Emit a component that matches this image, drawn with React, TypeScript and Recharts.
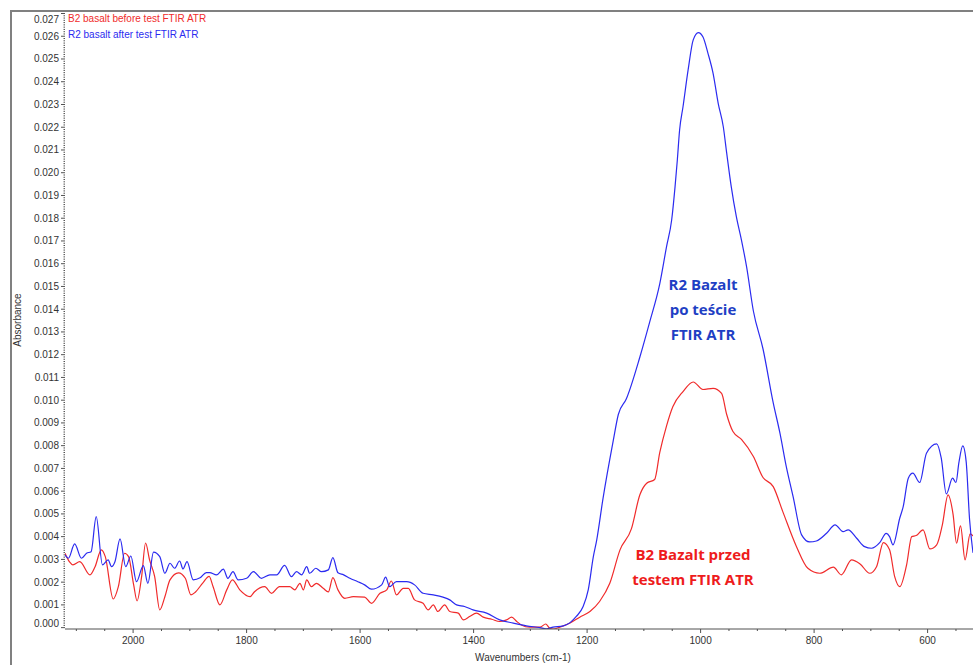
import React from 'react';
import { LineChart, Line, XAxis, YAxis } from 'recharts';

// R2 basalt after test (blue)
const afterWavenumbers = [
  2120, 2114, 2103, 2091, 2082, 2074, 2065, 2054, 2044, 2038, 2032, 2023, 2013, 2004, 1994, 1982,
  1974, 1964, 1953, 1944, 1935, 1927, 1918, 1912, 1905, 1894, 1882, 1871, 1865, 1853, 1841, 1833,
  1824, 1815, 1800, 1788, 1774, 1759, 1747, 1733, 1721, 1712, 1703, 1694, 1689, 1678, 1668, 1656,
  1648, 1639, 1629, 1618, 1604, 1592, 1580, 1562, 1555, 1548, 1536, 1518, 1504, 1489, 1471, 1454,
  1442, 1430, 1416, 1401, 1377, 1354, 1330, 1307, 1283, 1272, 1260, 1242, 1230, 1219, 1207, 1198,
  1189, 1183, 1172, 1154, 1145, 1131, 1107, 1090, 1072, 1060, 1051, 1045, 1041, 1037, 1031, 1022,
  1013, 1004, 996, 987, 978, 969, 960, 954, 946, 937, 928, 919, 907, 890, 872, 860,
  849, 837, 822, 808, 796, 778, 763, 749, 740, 725, 711, 699, 684, 673, 667, 661,
  649, 643, 634, 626, 614, 602, 584, 576, 567, 556, 550, 545, 538, 532, 526, 520,
];
const afterAbsorbance = [
  0.00320, 0.00305, 0.00368, 0.00305, 0.00327, 0.00334, 0.00488, 0.00276, 0.00298, 0.00268, 0.00290, 0.00390, 0.00268, 0.00315, 0.00202, 0.00273,
  0.00195, 0.00332, 0.00312, 0.00239, 0.00283, 0.00261, 0.00293, 0.00258, 0.00290, 0.00210, 0.00219, 0.00242, 0.00242, 0.00232, 0.00257, 0.00217,
  0.00246, 0.00210, 0.00217, 0.00246, 0.00217, 0.00232, 0.00232, 0.00274, 0.00224, 0.00246, 0.00232, 0.00268, 0.00239, 0.00261, 0.00246, 0.00254,
  0.00308, 0.00241, 0.00232, 0.00217, 0.00202, 0.00188, 0.00169, 0.00188, 0.00222, 0.00180, 0.00202, 0.00202, 0.00188, 0.00151, 0.00144, 0.00134,
  0.00122, 0.00100, 0.00093, 0.00078, 0.00064, 0.00034, 0.00020, 0.00008, 0.00000, -0.00005, 0.00002, 0.00008, 0.00022, 0.00049, 0.00093, 0.00166,
  0.00312, 0.00386, 0.00567, 0.00821, 0.00937, 0.01005, 0.01190, 0.01341, 0.01511, 0.01675, 0.01792, 0.01939, 0.02056, 0.02188, 0.02290, 0.02452,
  0.02584, 0.02616, 0.02598, 0.02525, 0.02437, 0.02305, 0.02202, 0.02086, 0.01939, 0.01807, 0.01704, 0.01587, 0.01392, 0.01225, 0.00988, 0.00853,
  0.00708, 0.00576, 0.00408, 0.00377, 0.00381, 0.00415, 0.00452, 0.00422, 0.00430, 0.00393, 0.00356, 0.00349, 0.00375, 0.00414, 0.00400, 0.00364,
  0.00482, 0.00532, 0.00657, 0.00679, 0.00638, 0.00767, 0.00808, 0.00746, 0.00588, 0.00657, 0.00638, 0.00723, 0.00799, 0.00729, 0.00474, 0.00329,
];

// B2 basalt before test (red)
const beforeWavenumbers = [
  2120, 2112, 2106, 2094, 2076, 2067, 2056, 2049, 2035, 2026, 2015, 2008, 1999, 1993, 1985, 1978,
  1971, 1962, 1953, 1944, 1935, 1920, 1908, 1898, 1890, 1877, 1866, 1859, 1847, 1835, 1825, 1812,
  1794, 1786, 1768, 1756, 1742, 1724, 1715, 1706, 1700, 1694, 1686, 1677, 1665, 1656, 1648, 1639,
  1627, 1612, 1592, 1580, 1565, 1553, 1545, 1536, 1524, 1515, 1504, 1489, 1480, 1471, 1463, 1451,
  1442, 1427, 1418, 1407, 1395, 1383, 1368, 1354, 1342, 1333, 1324, 1316, 1301, 1283, 1273, 1266,
  1260, 1248, 1230, 1213, 1195, 1178, 1160, 1142, 1122, 1107, 1095, 1081, 1072, 1060, 1049, 1031,
  1013, 996, 978, 963, 954, 943, 928, 907, 890, 872, 855, 831, 811, 790, 766, 752,
  734, 719, 702, 690, 678, 667, 658, 649, 637, 628, 620, 608, 596, 584, 574, 564,
  555, 549, 542, 534, 525, 520,
];
const beforeAbsorbance = [
  0.00327, 0.00289, 0.00276, 0.00290, 0.00232, 0.00268, 0.00342, 0.00312, 0.00126, 0.00180, 0.00327, 0.00312, 0.00188, 0.00118, 0.00224, 0.00372,
  0.00298, 0.00224, 0.00078, 0.00136, 0.00210, 0.00241, 0.00217, 0.00144, 0.00157, 0.00197, 0.00225, 0.00180, 0.00100, 0.00166, 0.00210, 0.00166,
  0.00136, 0.00158, 0.00180, 0.00151, 0.00180, 0.00180, 0.00166, 0.00195, 0.00166, 0.00210, 0.00180, 0.00195, 0.00173, 0.00157, 0.00220, 0.00166,
  0.00129, 0.00136, 0.00134, 0.00107, 0.00151, 0.00166, 0.00205, 0.00144, 0.00173, 0.00173, 0.00122, 0.00107, 0.00078, 0.00100, 0.00071, 0.00100,
  0.00071, 0.00064, 0.00034, 0.00049, 0.00064, 0.00046, 0.00037, 0.00027, 0.00034, 0.00046, 0.00027, 0.00012, 0.00002, 0.00002, 0.00016, -0.00002,
  -0.00006, 0.00002, 0.00020, 0.00046, 0.00071, 0.00115, 0.00195, 0.00342, 0.00434, 0.00584, 0.00635, 0.00651, 0.00769, 0.00887, 0.00971, 0.01038,
  0.01080, 0.01047, 0.01052, 0.01030, 0.00937, 0.00862, 0.00828, 0.00752, 0.00660, 0.00620, 0.00509, 0.00356, 0.00261, 0.00239, 0.00266, 0.00232,
  0.00298, 0.00280, 0.00239, 0.00268, 0.00374, 0.00342, 0.00224, 0.00180, 0.00276, 0.00400, 0.00405, 0.00430, 0.00346, 0.00364, 0.00452, 0.00584,
  0.00496, 0.00371, 0.00447, 0.00298, 0.00412, 0.00403,
];

const xTickValues = [2100, 2050, 2000, 1950, 1900, 1850, 1800, 1750, 1700, 1650, 1600, 1550, 1500, 1450, 1400, 1350, 1300, 1250, 1200, 1150, 1100, 1050, 1000, 950, 900, 850, 800, 750, 700, 650, 600, 550];
const yTickValues = Array.from({ length: 271 }, (_, i) => i / 10000);

const afterData = afterWavenumbers.map((w, i) => ({ w, a: afterAbsorbance[i] }));
const beforeData = beforeWavenumbers.map((w, i) => ({ w, a: beforeAbsorbance[i] }));

const RED = '#f02b2b';
const BLUE = '#2b2bf0';
const AXIS = '#505050';
const TEXT = '#333333';
const FONT = '"Liberation Sans", Arial, sans-serif';

const PLOT_LEFT = 65;
const PLOT_BOTTOM = 629;

const YTick = (props: any) => {
  const { y, payload } = props;
  const v = payload.value as number;
  const idx = Math.round(v * 10000);
  if (idx % 10 !== 0) {
    return <rect x={PLOT_LEFT - 1.5} y={y - 0.5} width={1.5} height={1} fill={AXIS} />;
  }
  const ly = Math.min(Math.max(y, 19), 623);
  return (
    <g>
      <line x1={PLOT_LEFT - 4} x2={PLOT_LEFT} y1={y} y2={y} stroke={AXIS} strokeWidth={1} />
      <text x={PLOT_LEFT - 6} y={ly} dy={3.5} textAnchor="end" fontSize={10} fill={TEXT} fontFamily={FONT}>
        {(idx / 10000).toFixed(3)}
      </text>
    </g>
  );
};

const XTick = (props: any) => {
  const { x, payload } = props;
  const v = payload.value as number;
  const major = v % 200 === 0;
  return (
    <g>
      <line x1={x} x2={x} y1={PLOT_BOTTOM} y2={PLOT_BOTTOM + (major ? 4 : 2)} stroke={AXIS} strokeWidth={1} />
      {major && (
        <text x={x} y={PLOT_BOTTOM + 15} textAnchor="middle" fontSize={10} fill={TEXT} fontFamily={FONT}>
          {v}
        </text>
      )}
    </g>
  );
};

export default function App() {
  return (
    <div style={{ position: 'absolute', left: 0, top: 0, width: 973, height: 665, background: '#fff', overflow: 'hidden' }}>
      <LineChart width={973} height={665} margin={{ top: 11, right: 0, bottom: 0, left: 0 }}>
        <XAxis
          type="number"
          dataKey="w"
          domain={[520, 2120]}
          reversed
          allowDataOverflow
          ticks={xTickValues}
          interval={0}
          tick={<XTick />}
          tickLine={false}
          axisLine={{ stroke: AXIS }}
          height={36}
        />
        <YAxis
          type="number"
          dataKey="a"
          domain={[-0.00006, 0.02711]}
          allowDataOverflow
          ticks={yTickValues}
          interval={0}
          tick={<YTick />}
          tickLine={false}
          axisLine={false}
          width={65}
        />
        <Line data={beforeData} dataKey="a" type="monotone" stroke={RED} strokeWidth={1.2} dot={false} isAnimationActive={false} />
        <Line data={afterData} dataKey="a" type="monotone" stroke={BLUE} strokeWidth={1.2} dot={false} isAnimationActive={false} />
      </LineChart>

      {/* outer frame */}
      <div style={{ position: 'absolute', left: 10, top: 10, width: 2, height: 655, background: '#808080' }} />
      <div style={{ position: 'absolute', left: 10, top: 10, width: 963, height: 2, background: '#808080' }} />

      {/* legend */}
      <div style={{ position: 'absolute', left: 68, top: 13, fontFamily: FONT, fontSize: 10, color: RED, whiteSpace: 'nowrap', lineHeight: '12px' }}>
        B2 basalt before test FTIR ATR
      </div>
      <div style={{ position: 'absolute', left: 68, top: 29, fontFamily: FONT, fontSize: 10, color: BLUE, whiteSpace: 'nowrap', lineHeight: '12px' }}>
        R2 basalt after test FTIR ATR
      </div>

      {/* axis titles */}
      <div style={{ position: 'absolute', left: 18, top: 320, fontFamily: FONT, fontSize: 10, color: TEXT, whiteSpace: 'nowrap', transform: 'translate(-50%, -50%) rotate(-90deg)', lineHeight: '12px' }}>
        Absorbance
      </div>
      <div style={{ position: 'absolute', left: 523, top: 658, fontFamily: FONT, fontSize: 10, color: TEXT, whiteSpace: 'nowrap', transform: 'translate(-50%, -50%)', lineHeight: '12px' }}>
        Wavenumbers (cm-1)
      </div>

      {/* annotations */}
      <div style={{ position: 'absolute', left: 603, top: 272, width: 200, textAlign: 'center', fontFamily: '"Open Sans", sans-serif', fontWeight: 700, fontSize: 15, color: '#1f3fc4', lineHeight: '25px' }}>
        R2 Bazalt<br />po teście<br />FTIR ATR
      </div>
      <div style={{ position: 'absolute', left: 593, top: 542, width: 200, textAlign: 'center', fontFamily: '"Open Sans", sans-serif', fontWeight: 700, fontSize: 15, color: '#ee1c1c', lineHeight: '25px' }}>
        B2 Bazalt przed<br />testem FTIR ATR
      </div>
    </div>
  );
}
